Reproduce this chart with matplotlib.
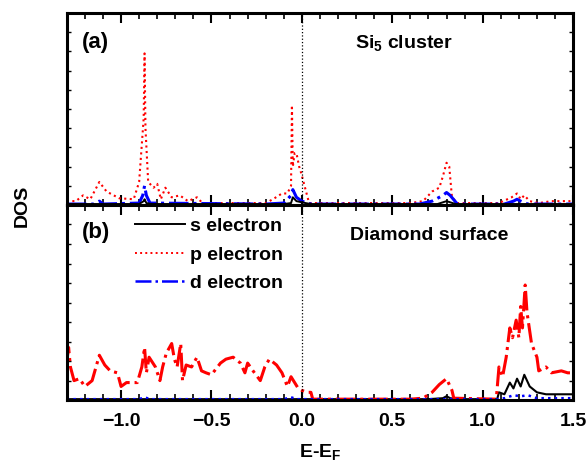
import matplotlib
matplotlib.use('Agg')
import matplotlib.pyplot as plt
from matplotlib.lines import Line2D
from matplotlib.ticker import MultipleLocator, NullFormatter

plt.rcParams['font.family'] = ['Liberation Sans', 'DejaVu Sans']
plt.rcParams['font.weight'] = 'bold'
plt.rcParams['mathtext.fontset'] = 'custom'
plt.rcParams['mathtext.rm'] = 'Liberation Sans:bold'
plt.rcParams['mathtext.bf'] = 'Liberation Sans:bold'
plt.rcParams['mathtext.it'] = 'Liberation Sans:bold'

# ---- panel (a): Si5 cluster ----
a_p_E = [-1.30, -1.25, -1.21, -1.17, -1.12, -1.08, -1.01, -0.93, -0.90, -0.875, -0.87, -0.865,
         -0.85, -0.82, -0.80, -0.78, -0.755, -0.72, -0.675, -0.63, -0.58, -0.55, -0.40, -0.20,
         -0.16, -0.11, -0.08, -0.06, -0.055, -0.05, -0.04, -0.03, -0.015, -0.005, 0.04, 0.30,
         0.60, 0.67, 0.72, 0.76, 0.78, 0.80, 0.815, 0.83, 0.86, 1.09, 1.16, 1.19, 1.21, 1.23,
         1.26, 1.31, 1.38, 1.47, 1.50]
a_p_val = [0.02, 0.02, 0.05, 0.03, 0.12, 0.07, 0.035, 0.03, 0.12, 0.45, 0.79, 0.40,
           0.12, 0.09, 0.11, 0.03, 0.09, 0.04, 0.05, 0.02, 0.04, 0.01, 0.01, 0.01,
           0.03, 0.06, 0.06, 0.10, 0.52, 0.20, 0.27, 0.27, 0.20, 0.17, 0.01, 0.01,
           0.01, 0.02, 0.07, 0.09, 0.15, 0.22, 0.20, 0.04, 0.01, 0.01, 0.04, 0.06, 0.03, 0.05,
           0.02, 0.01, 0.02, 0.02, 0.02]
a_s_E = [-1.30, -0.90, -0.875, -0.87, -0.86, -0.83, -0.10, -0.06, -0.05, -0.03, 0.02, 0.05,
         0.75, 0.80, 0.85, 1.50]
a_s_val = [0.005, 0.005, 0.02, 0.03, 0.01, 0.005, 0.005, 0.01, 0.04, 0.02, 0.01, 0.005,
           0.005, 0.02, 0.005, 0.005]
a_d_E = [-1.30, -1.15, -1.12, -1.10, -0.90, -0.88, -0.87, -0.86, -0.84, -0.20, -0.10, -0.06,
         -0.05, -0.03, 0.00, 0.05, 0.65, 0.72, 0.78, 0.80, 0.82, 0.86, 1.12, 1.17, 1.19, 1.21,
         1.25, 1.50]
a_d_val = [0.005, 0.005, 0.02, 0.005, 0.01, 0.05, 0.10, 0.05, 0.01, 0.005, 0.01, 0.05,
           0.08, 0.04, 0.02, 0.005, 0.005, 0.02, 0.05, 0.065, 0.05, 0.005, 0.005, 0.02, 0.03, 0.02,
           0.005, 0.005]

# ---- panel (b): diamond surface ----
b_p_E = [-1.30, -1.29, -1.28, -1.26, -1.23, -1.20, -1.16, -1.12, -1.09, -1.06, -1.02, -1.00,
         -0.97, -0.91, -0.885, -0.87, -0.86, -0.845, -0.81, -0.785, -0.77, -0.75, -0.72, -0.705,
         -0.69, -0.67, -0.66, -0.64, -0.61, -0.58, -0.555, -0.53, -0.50, -0.45, -0.42, -0.38,
         -0.34, -0.315, -0.30, -0.27, -0.23, -0.205, -0.18, -0.14, -0.11, -0.08, -0.06, -0.04,
         -0.02, 0.00, 0.03, 0.05, 0.06, 0.30, 0.60, 0.67, 0.72, 0.76, 0.80, 0.83, 0.84, 1.075,
         1.09, 1.11, 1.13, 1.15, 1.165, 1.185, 1.20, 1.21, 1.22, 1.235, 1.245, 1.27, 1.30,
         1.31, 1.35, 1.38, 1.435, 1.47, 1.50]
b_p_val = [0.20, 0.27, 0.17, 0.10, 0.11, 0.07, 0.10, 0.23, 0.18, 0.15, 0.14, 0.07,
           0.09, 0.09, 0.17, 0.27, 0.14, 0.22, 0.17, 0.10, 0.17, 0.24, 0.29, 0.21,
           0.17, 0.29, 0.10, 0.18, 0.17, 0.22, 0.15, 0.14, 0.13, 0.19, 0.21, 0.22,
           0.19, 0.14, 0.19, 0.15, 0.10, 0.17, 0.21, 0.18, 0.14, 0.07, 0.12, 0.09,
           0.06, 0.05, 0.04, 0.04, 0.005, 0.005, 0.005, 0.01, 0.04, 0.08, 0.11, 0.05, 0.01, 0.005,
           0.17, 0.12, 0.22, 0.37, 0.32, 0.41, 0.32, 0.48, 0.37, 0.59, 0.45, 0.29, 0.22,
           0.15, 0.17, 0.14, 0.15, 0.14, 0.14]
b_s_E = [-1.30, 0.70, 0.78, 0.80, 0.82, 0.86, 1.08, 1.09, 1.12, 1.15, 1.17, 1.19, 1.21,
         1.23, 1.26, 1.30, 1.35, 1.42, 1.50]
b_s_val = [0.005, 0.005, 0.01, 0.02, 0.01, 0.005, 0.005, 0.04, 0.03, 0.09, 0.06, 0.11, 0.07,
           0.13, 0.07, 0.04, 0.03, 0.03, 0.03]
b_d_E = [-1.30, -0.90, -0.87, -0.84, -0.10, -0.06, -0.03, 1.08, 1.12, 1.17, 1.21, 1.25,
         1.30, 1.50]
b_d_val = [0.005, 0.005, 0.015, 0.005, 0.005, 0.015, 0.005, 0.005, 0.01, 0.025, 0.02, 0.025,
           0.01, 0.01]

fig = plt.figure(figsize=(5.86, 4.68), dpi=100)
ax_a = fig.add_axes([0.114, 0.562, 0.864, 0.410])
ax_b = fig.add_axes([0.114, 0.145, 0.864, 0.417], sharex=ax_a)

ax_a.plot(a_p_E, a_p_val, color='red', ls=':', lw=1.5)
ax_a.plot(a_d_E, a_d_val, color='blue', ls='-.', lw=2.2)
ax_a.plot(a_s_E, a_s_val, color='black', ls='-', lw=1.4)

ax_b.plot(b_s_E, b_s_val, color='black', ls='-', lw=1.5)
ax_b.plot(b_p_E, b_p_val, color='red', ls='-.', lw=2.2)
ax_b.plot(b_d_E, b_d_val, color='blue', ls=':', lw=1.8)

for ax in (ax_a, ax_b):
    ax.set_xlim(-1.3, 1.5)
    ax.set_ylim(0, 1.0)
    ax.axvline(0, color='black', ls=':', lw=0.9)
    ax.xaxis.set_major_locator(MultipleLocator(0.5))
    ax.xaxis.set_minor_locator(MultipleLocator(0.1))
    ax.yaxis.set_major_locator(MultipleLocator(0.1))
    ax.yaxis.set_major_formatter(NullFormatter())
    ax.tick_params(axis='x', which='major', direction='in', top=True, length=7, width=1.5,
                   labelsize=14, pad=9)
    ax.tick_params(axis='x', which='minor', direction='in', top=True, length=4, width=1.2)
    ax.tick_params(axis='y', which='major', direction='in', right=True, length=3, width=1.0)
    for sp in ax.spines.values():
        sp.set_linewidth(2.2)
    for lab in ax.get_xticklabels():
        lab.set_fontweight('bold')

plt.setp(ax_a.get_xticklabels(), visible=False)

ax_a.text(0.03, 0.82, '(a)', transform=ax_a.transAxes, fontsize=16, fontweight='bold')
ax_a.text(0.57, 0.82, r'Si$_{5}$ cluster', transform=ax_a.transAxes, fontsize=14,
          fontweight='bold')
ax_b.text(0.03, 0.83, '(b)', transform=ax_b.transAxes, fontsize=16, fontweight='bold')
ax_b.text(0.715, 0.82, 'Diamond surface', transform=ax_b.transAxes, fontsize=14,
          fontweight='bold', ha='center')

handles = [Line2D([], [], color='black', ls='-', lw=1.4),
           Line2D([], [], color='red', ls=':', lw=1.4),
           Line2D([], [], color='blue', ls='-.', lw=1.8)]
labels = ['s electron', 'p electron', 'd electron']
ax_b.legend(handles, labels, loc='upper left', bbox_to_anchor=(0.1, 1.025), frameon=False,
            prop={'size': 14, 'weight': 'bold'}, handlelength=2.6, labelspacing=0.55,
            handletextpad=0.25)

fig.text(0.038, 0.56, 'DOS', rotation=90, fontsize=14, fontweight='bold', va='center',
         ha='center')
ax_b.set_xlabel(r'E-E$_{F}$', fontsize=14, fontweight='bold', labelpad=9)

fig.savefig('out.png', dpi=100)
